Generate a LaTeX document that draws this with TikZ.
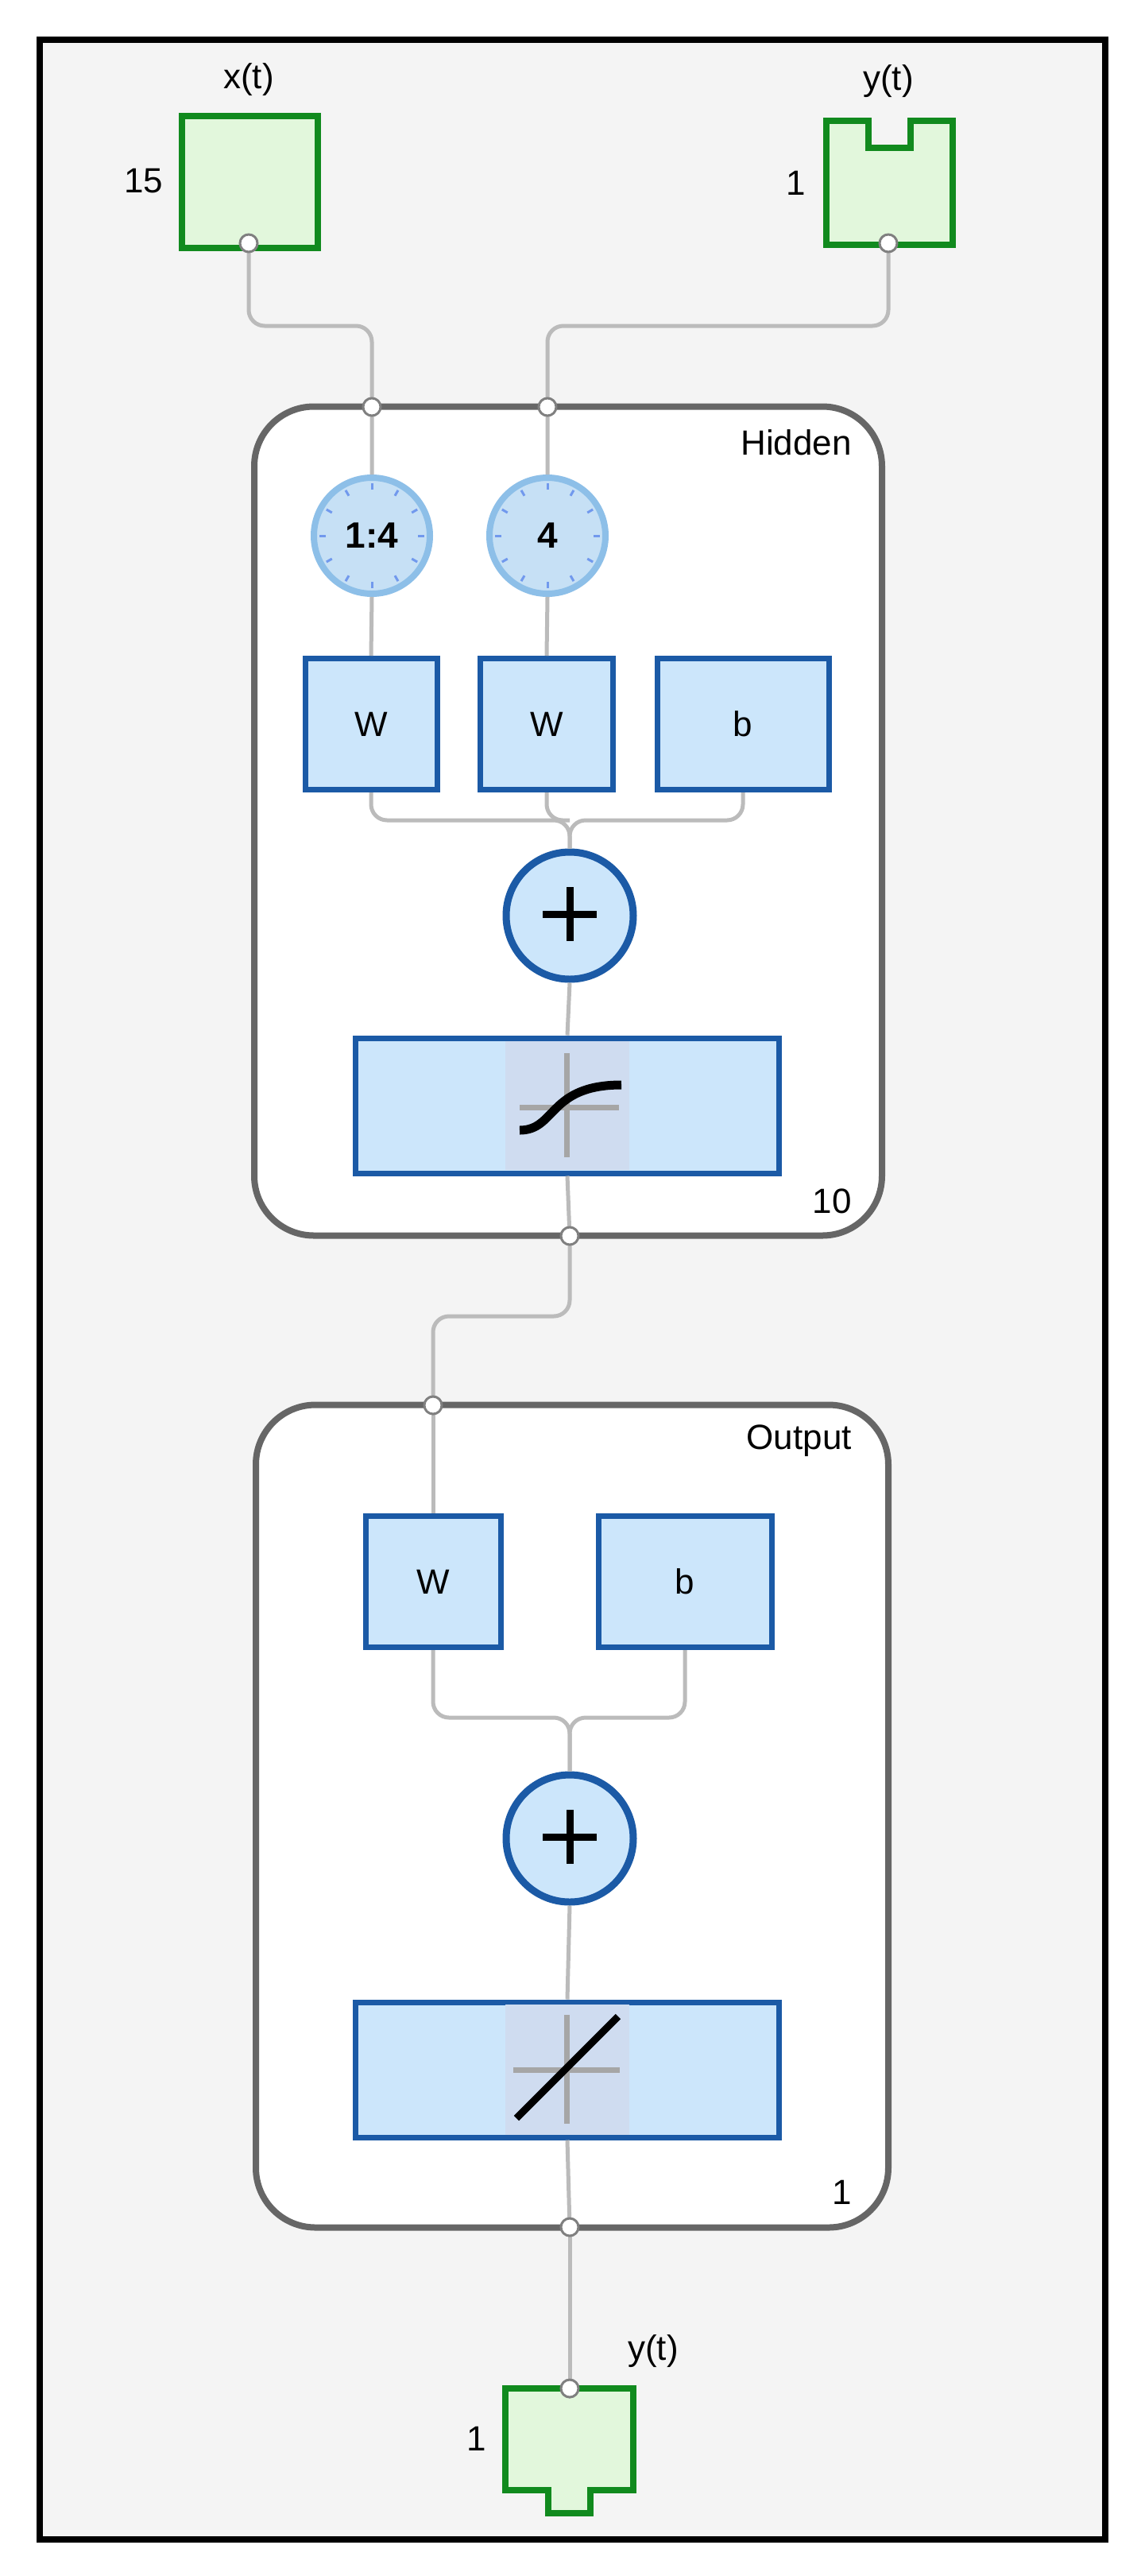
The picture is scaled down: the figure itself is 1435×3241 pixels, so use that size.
\documentclass[tikz,border=0pt]{standalone}
\usepackage{fontspec}
\setmainfont{Liberation Sans}
\usetikzlibrary{arrows.meta,calc}
\definecolor{bg}{HTML}{F4F4F4}
\definecolor{lbord}{HTML}{666666}
\definecolor{bfill}{HTML}{CCE6FB}
\definecolor{bbord}{HTML}{1B5AA6}
\definecolor{gfill}{HTML}{E2F7DC}
\definecolor{gbord}{HTML}{118A1E}
\definecolor{cfill}{HTML}{C6E0F5}
\definecolor{cbord}{HTML}{8DBFE8}
\definecolor{conc}{HTML}{BBBBBB}
\definecolor{icbg}{HTML}{CFDCF0}
\begin{document}
\begin{tikzpicture}[x=1pt,y=-1pt,
  txt/.style={font=\fontsize{44}{50}\selectfont, inner sep=0pt},
  layer/.style={draw=lbord, line width=8pt, fill=white, rounded corners=75pt},
  blk/.style={draw=bbord, line width=7pt, fill=bfill, txt},
  conn/.style={draw=conc, line width=5pt},
  arr/.style={conn, -{Triangle[length=16pt,width=18pt,fill=gray!80!black,color=gray!80!black]}},
  port/.style={circle, draw=gray, fill=white, line width=3pt, minimum size=22pt, inner sep=0pt},
  clk/.style={circle, draw=cbord, fill=cfill, line width=8pt, minimum size=146pt, inner sep=0pt, font=\fontsize{46}{50}\selectfont\bfseries},
  sum/.style={circle, draw=bbord, fill=bfill, line width=9pt, minimum size=160pt, inner sep=0pt}]
\useasboundingbox (0,0) rectangle (1435,3241);
\fill[bg] (50,50) rectangle (1391,3195);
\draw[line width=8pt] (50,50) rectangle (1391,3195);

% layer boxes
\node[layer, minimum width=790pt, minimum height=1043pt] (hid) at (715,1033) {};
\node[layer, minimum width=796pt, minimum height=1035pt] (out) at (720,2285) {};
\node[txt, anchor=north east] (hidl) at (1072,540) {Hidden};
\node[txt, anchor=north east] (outl) at (1072,1793) {Output};
\node[txt, anchor=south east] (hn) at (1072,1527) {10};
\node[txt, anchor=south east] (on) at (1072,2774) {1};

% inputs
\draw[gbord, fill=gfill, line width=8pt] (229,146) rectangle (400,312);
\node[txt] (xl) at (313,100) {x(t)};
\node[txt] (xn) at (181,228) {15};
\draw[gbord, fill=gfill, line width=8pt] (1040,152) -- (1093,152) -- (1093,186) -- (1146,186) -- (1146,152) -- (1199,152) -- (1199,308) -- (1040,308) -- cycle;
\node[txt] (yl) at (1118,102) {y(t)};
\node[txt] (yn) at (1002,230) {1};

% output terminal
\draw[gbord, fill=gfill, line width=8pt] (636,3005) -- (797,3005) -- (797,3133) -- (743,3133) -- (743,3162) -- (690,3162) -- (690,3133) -- (636,3133) -- cycle;
\node[txt] (yol) at (822,2958) {y(t)};
\node[txt] (yon) at (600,3068) {1};

% ports
\coordinate (xp) at (313,306);
\coordinate (yp) at (1118,306);
\coordinate (h1) at (468,512);
\coordinate (h2) at (689,512);
\coordinate (ho) at (717,1555);
\coordinate (oi) at (545,1768);
\coordinate (oo) at (717,2802);
\coordinate (ti) at (717,3005);

% hidden blocks
\node[clk] (c1) at (468,674) {1:4};
\node[clk] (c2) at (689,674) {4};
\foreach \c in {c1,c2}{
  \foreach \a in {0,30,...,330}{
    \draw[cbord!80!blue, line width=3pt] ($(\c)+(\a:58pt)$) -- ($(\c)+(\a:66pt)$);
  }}
\node[blk, minimum width=166pt, minimum height=165pt] (w1) at (467,911) {W};
\node[blk, minimum width=167pt, minimum height=165pt] (w2) at (688,911) {W};
\node[blk, minimum width=216pt, minimum height=165pt] (b1) at (935,911) {b};
\node[sum] (s1) at (717,1152) {};
\draw[line width=9pt] (683,1150) -- (751,1150) (717,1116) -- (717,1184);
\node[blk, minimum width=533pt, minimum height=170pt] (f1) at (714,1391) {};
\fill[icbg] (636,1310) rectangle (792,1472);
\draw[gray!70, line width=7pt] (713,1325) -- (713,1456) (654,1393) -- (779,1393);
\draw[line width=11pt] (654,1422) .. controls (700,1422) and (690,1365) .. (782,1365);

% output blocks
\node[blk, minimum width=170pt, minimum height=165pt] (w3) at (545,1990) {W};
\node[blk, minimum width=218pt, minimum height=165pt] (b2) at (862,1990) {b};
\node[sum] (s2) at (717,2313) {};
\draw[line width=9pt] (683,2311) -- (751,2311) (717,2277) -- (717,2345);
\node[blk, minimum width=533pt, minimum height=170pt] (f2) at (714,2604) {};
\fill[icbg] (636,2522) rectangle (792,2686);
\draw[gray!70, line width=7pt] (713,2535) -- (713,2672) (646,2604) -- (780,2604);
\draw[line width=9pt] (650,2665) -- (778,2537);

% connectors
\coordinate (m1) at (400,410);
\coordinate (m2) at (900,410);
\coordinate (m3) at (630,1656);
\coordinate (j1) at (717,1032);
\coordinate (j2) at (717,2161);
\begin{scope}[rounded corners=20pt]
\draw[arr] (xp) |- (m1) -| ([yshift=-13pt]h1);
\draw[arr] (yp) |- (m2) -| ([yshift=-13pt]h2);
\draw[conn] (w1.south) |- (j1) -- (s1.north);
\draw[conn] (b1.south) |- (j1) -- (s1.north);
\draw[conn] (w2.south) |- (j1);
\draw[arr] (ho) |- (m3) -| ([yshift=-13pt]oi);
\draw[conn] (w3.south) |- (j2) -- (s2.north);
\draw[conn] (b2.south) |- (j2) -- (s2.north);
\end{scope}
\draw[conn] (h1) -- (c1.north) (c1.south) -- (w1.north);
\draw[conn] (h2) -- (c2.north) (c2.south) -- (w2.north);
\draw[conn] (s1.south) -- (f1.north) (f1.south) -- (ho);
\draw[conn] (oi) -- (w3.north);
\draw[conn] (s2.south) -- (f2.north) (f2.south) -- (oo);
\draw[arr] (oo) -- ([yshift=-13pt]ti);

\foreach \p in {xp,yp,h1,h2,ho,oi,oo,ti}{\node[port] (P\p) at (\p) {};}
\end{tikzpicture}
\end{document}
